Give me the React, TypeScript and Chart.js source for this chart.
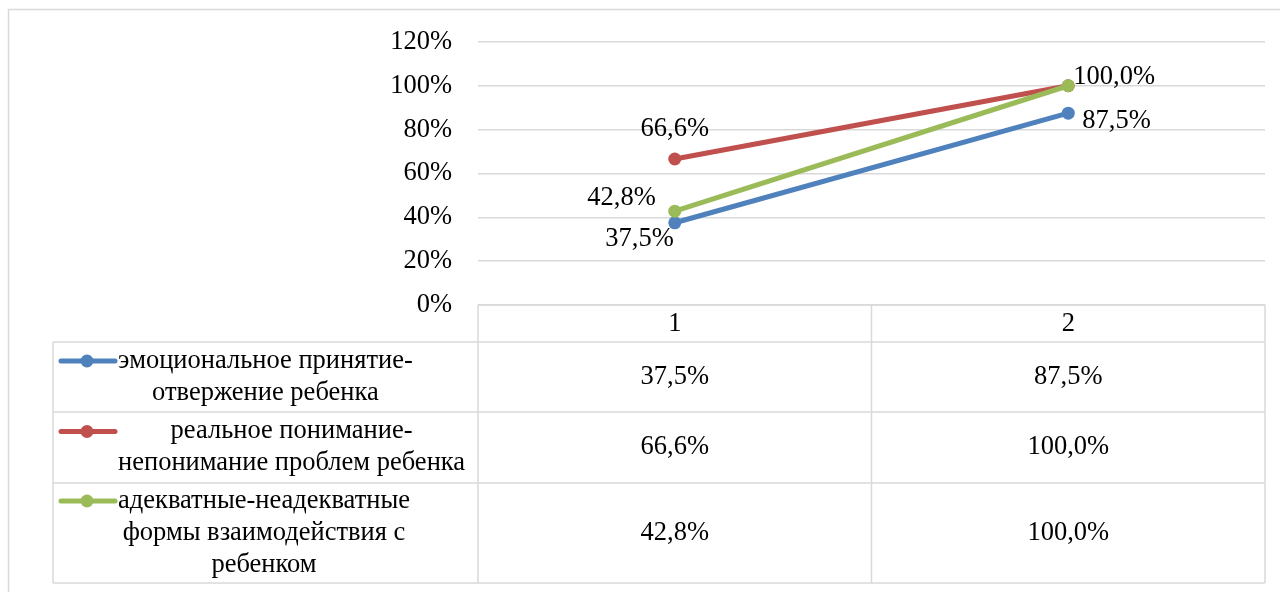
import React, { useEffect, useRef } from "react";
import { Chart, registerables } from "chart.js";

Chart.register(...registerables);

const categories = ["1", "2"];
const seriesNames = [
  ["эмоциональное принятие-", "отвержение ребенка"],
  ["реальное понимание-", "непонимание проблем ребенка"],
  ["адекватные-неадекватные", "формы взаимодействия с", "ребенком"],
];
const emotionalAcceptance = [37.5, 87.5];
const realUnderstanding = [66.6, 100.0];
const adequateForms = [42.8, 100.0];
const seriesValues = [emotionalAcceptance, realUnderstanding, adequateForms];
const yTicks = [0, 20, 40, 60, 80, 100, 120];

const COLORS = ["#4F81BD", "#C0504D", "#9BBB59"];
const FONT = "'Liberation Serif', 'Times New Roman', serif";
const FONT_SIZE = 26.5;
const GRID = "#d9d9d9";

// label placement styles per series/point: [align, dx, dy] or null
const labelStyle: (null | [CanvasTextAlign, number, number])[][] = [
  [["right", -1, 16], ["left", 14, 8]],
  [["center", 0, -30], ["left", 5, -9]],
  [["right", -19, -13], null],
];

const fmt = (v: number) => v.toFixed(1).replace(".", ",") + "%";

const tablePlugin = {
  id: "dataTable",
  afterDraw(chart: any) {
    const ctx = chart.ctx as CanvasRenderingContext2D;
    const area = chart.chartArea;
    const xs = chart.scales.x;
    const ys = chart.scales.y;
    ctx.save();

    // outer border
    ctx.strokeStyle = GRID;
    ctx.lineWidth = 1.5;
    ctx.strokeRect(8.5, 9.5, 1290, 600);

    // data labels
    ctx.font = `${FONT_SIZE}px ${FONT}`;
    ctx.fillStyle = "#000";
    ctx.textBaseline = "middle";
    seriesValues.forEach((vals, i) => {
      vals.forEach((v, j) => {
        const st = labelStyle[i][j];
        if (!st) return;
        const px = xs.getPixelForValue(j);
        const py = ys.getPixelForValue(v);
        ctx.textAlign = st[0];
        ctx.fillText(fmt(v), px + st[1], py + st[2]);
      });
    });

    // table
    const left = area.left;
    const right = area.right;
    const legendLeft = 53;
    const top = area.bottom;
    const headerBottom = top + 37;
    const rowHeights = [70, 71, 100];
    const rowEdges = [headerBottom];
    rowHeights.forEach((h) => rowEdges.push(rowEdges[rowEdges.length - 1] + h));
    const centers = categories.map((_, i) => xs.getPixelForValue(i));
    const mid = (centers[0] + centers[1]) / 2;
    const bottom = rowEdges[rowEdges.length - 1];

    ctx.strokeStyle = GRID;
    ctx.lineWidth = 1.5;
    ctx.beginPath();
    ctx.moveTo(left, top);
    ctx.lineTo(right, top);
    ctx.moveTo(left, top);
    ctx.lineTo(left, bottom);
    ctx.moveTo(right, top);
    ctx.lineTo(right, bottom);
    ctx.moveTo(mid, top);
    ctx.lineTo(mid, bottom);
    ctx.moveTo(legendLeft, headerBottom);
    ctx.lineTo(legendLeft, bottom);
    rowEdges.forEach((y) => {
      ctx.moveTo(legendLeft, y);
      ctx.lineTo(right, y);
    });
    ctx.stroke();

    // header text
    ctx.fillStyle = "#000";
    ctx.font = `${FONT_SIZE}px ${FONT}`;
    ctx.textAlign = "center";
    ctx.textBaseline = "middle";
    categories.forEach((c, i) => ctx.fillText(c, centers[i], (top + headerBottom) / 2 + 1));

    const lineH = 32;
    seriesValues.forEach((vals, i) => {
      const rTop = rowEdges[i];
      const rBot = rowEdges[i + 1];
      const rc = (rTop + rBot) / 2;
      vals.forEach((v, j) => ctx.fillText(fmt(v), centers[j], rc));
      const lines = seriesNames[i];
      const firstY = rc - ((lines.length - 1) * lineH) / 2;
      const maxW = Math.max(...lines.map((l) => ctx.measureText(l).width));
      const cx = 118 + maxW / 2;
      lines.forEach((l, k) => ctx.fillText(l, cx, firstY + k * lineH));
      // legend key
      ctx.strokeStyle = COLORS[i];
      ctx.lineWidth = 5;
      ctx.lineCap = "round";
      ctx.beginPath();
      ctx.moveTo(61, firstY);
      ctx.lineTo(115, firstY);
      ctx.stroke();
      ctx.fillStyle = COLORS[i];
      ctx.beginPath();
      ctx.arc(87, firstY, 6.5, 0, Math.PI * 2);
      ctx.fill();
      ctx.fillStyle = "#000";
    });

    ctx.restore();
  },
};

export default function App() {
  const ref = useRef<HTMLCanvasElement>(null);
  useEffect(() => {
    if (!ref.current) return;
    const chart = new Chart(ref.current, {
      type: "line",
      data: {
        labels: categories,
        datasets: seriesValues.map((vals, i) => ({
          label: seriesNames[i].join(" "),
          data: vals,
          borderColor: COLORS[i],
          backgroundColor: COLORS[i],
          borderWidth: 5,
          pointRadius: 6.5,
          pointBorderWidth: 0,
          pointBackgroundColor: COLORS[i],
          order: 2 - i,
          fill: false,
          tension: 0,
        })),
      },
      options: {
        animation: false,
        responsive: false,
        devicePixelRatio: 1,
        layout: { padding: { left: 0, top: 38, right: 15, bottom: 287 } },
        plugins: { legend: { display: false }, tooltip: { enabled: false } },
        scales: {
          x: { type: "category", offset: true, display: false },
          y: {
            min: 0,
            max: 120,
            afterFit: (scale: any) => {
              scale.width = 478;
            },
            afterBuildTicks: (scale: any) => {
              scale.ticks = yTicks.map((v) => ({ value: v }));
            },
            border: { display: false },
            grid: { color: GRID, lineWidth: 1.5, drawTicks: false },
            ticks: {
              padding: 26,
              color: "#000",
              font: { family: FONT, size: FONT_SIZE },
              callback: (v: any) => `${v}%`,
            },
          },
        },
      },
      plugins: [tablePlugin],
    });
    return () => chart.destroy();
  }, []);
  return (
    <div style={{ position: "fixed", left: 0, top: 0, width: 1280, height: 592, background: "#fff" }}>
      <canvas ref={ref} width={1280} height={592} style={{ display: "block" }} />
    </div>
  );
}
